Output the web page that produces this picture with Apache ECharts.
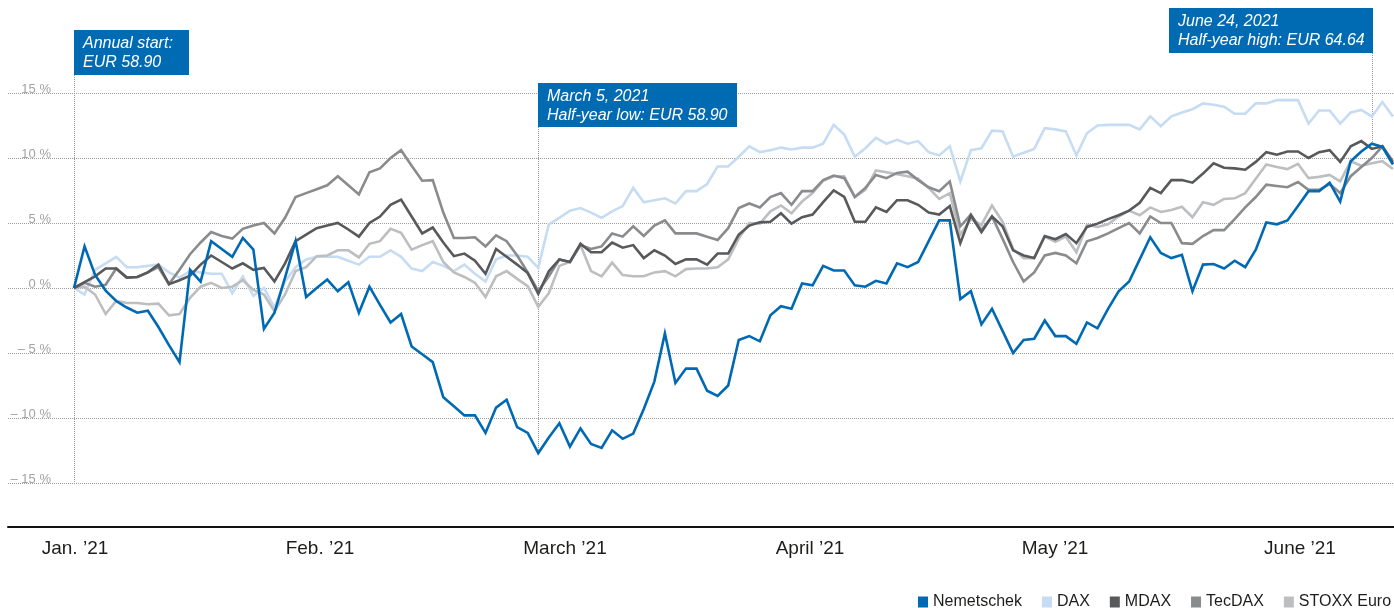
<!DOCTYPE html>
<html><head><meta charset="utf-8">
<script src="https://cdn.jsdelivr.net/npm/echarts@6/dist/echarts.min.js"></script>
<style>html,body{margin:0;padding:0;background:#fff}#c{width:1394px;height:608px}</style>
</head><body><div id="c"></div>
<script>
// ---- data (percent change vs. annual start, one value per trading day) ----
const monthLabels = ["Jan. \u201921", "Feb. \u201921", "March \u201921", "April \u201921", "May \u201921", "June \u201921"];
const yTicks = [-15, -10, -5, 0, 5, 10, 15];
const seriesNames = ["Nemetschek", "DAX", "MDAX", "TecDAX", "STOXX Euro"];

const nemetschek = [0, 3.2, 1.0, -0.2, -1.0, -1.5, -1.9, -1.75, -3.0, -4.4,
  -5.7, 1.4, 0.5, 3.6, 3.0, 2.4, 3.85, 2.95, -3.15, -1.9,
  0.8, 3.6, -0.7, 0.0, 0.65, -0.25, 0.45, -1.9, 0.1, -1.3,
  -2.65, -2.0, -4.5, -5.1, -5.7, -8.4, -9.1, -9.8, -9.8, -11.15,
  -9.2, -8.6, -10.7, -11.15, -12.7, -11.5, -10.4, -12.2, -10.8, -12.0,
  -12.3, -10.95, -11.6, -11.2, -9.3, -7.2, -3.5, -7.3, -6.2, -6.2,
  -7.9, -8.3, -7.5, -4.0, -3.7, -4.1, -2.1, -1.4, -1.6, 0.35,
  0.2, 1.7, 1.35, 1.35, 0.2, 0.1, 0.55, 0.35, 1.9, 1.6,
  2.0, 3.6, 5.2, 5.2, -0.85, -0.25, -2.8, -1.6, -3.3, -5.0,
  -4.0, -3.9, -2.5, -3.7, -3.7, -4.3, -2.65, -3.1, -1.6, -0.25,
  0.5, 2.2, 3.9, 2.7, 2.3, 2.55, -0.25, 1.8, 1.85, 1.5,
  2.1, 1.6, 2.95, 5.05, 4.9, 5.2, 6.3, 7.45, 7.45, 8.1,
  6.65, 9.75, 10.5, 11.1, 10.85, 9.5];

const dax = [0, -0.5, 1.4, 1.9, 2.4, 1.6, 1.6, 1.7, 1.8, 1.2,
  0.8, 1.3, 1.2, 1.1, 1.1, -0.4, 0.9, -0.6, 0.0, -1.5,
  0.5, 1.6, 2.2, 2.4, 2.4, 2.4, 2.1, 1.8, 2.4, 2.4,
  2.9, 2.4, 1.5, 1.3, 2.0, 1.7, 1.3, 1.8, 1.1, 0.5,
  2.2, 2.5, 2.5, 2.4, 1.55, 4.9, 5.4, 5.95, 6.15, 5.8,
  5.4, 5.9, 6.3, 7.7, 6.6, 6.75, 6.9, 6.5, 7.45, 7.45,
  8.0, 9.35, 9.35, 10.1, 10.9, 10.45, 10.6, 10.8, 10.65, 10.8,
  10.8, 11.1, 12.55, 11.8, 10.1, 10.75, 11.55, 11.1, 11.4, 11.1,
  11.3, 10.45, 10.2, 10.9, 8.2, 10.6, 10.75, 12.1, 12.05, 10.1,
  10.4, 10.7, 12.3, 12.2, 12.05, 10.2, 11.9, 12.5, 12.55, 12.55,
  12.55, 12.2, 13.2, 12.45, 13.2, 13.5, 13.75, 14.2, 14.1, 13.95,
  13.4, 13.4, 14.2, 14.2, 14.45, 14.45, 14.45, 12.65, 13.65, 13.65,
  12.65, 13.5, 13.7, 13.2, 14.3, 13.2];

const mdax = [0, 0.45, 0.9, 1.5, 1.5, 0.8, 0.85, 1.2, 1.8, 0.3,
  0.6, 0.95, 1.8, 2.5, 2.0, 1.5, 1.9, 1.4, 1.55, 0.5,
  1.9, 3.6, 4.1, 4.6, 4.8, 5.0, 4.5, 3.95, 5.0, 5.5,
  6.4, 6.8, 5.5, 4.2, 4.65, 3.5, 2.45, 2.65, 2.1, 1.1,
  3.0, 2.4, 1.8, 1.15, -0.45, 1.3, 2.2, 2.0, 3.4, 2.75,
  2.75, 3.5, 3.1, 3.3, 2.3, 2.9, 2.5, 1.85, 2.2, 2.2,
  1.8, 2.65, 2.65, 4.1, 4.8, 5.05, 5.1, 5.75, 4.95, 5.45,
  5.65, 6.6, 7.5, 7.0, 5.1, 5.1, 6.2, 5.85, 6.75, 6.75,
  6.4, 5.8, 5.65, 6.3, 3.45, 5.6, 4.3, 5.5, 4.75, 2.9,
  2.5, 2.3, 4.0, 3.75, 4.15, 3.45, 4.7, 4.95, 5.3, 5.6,
  5.95, 6.55, 7.7, 7.3, 8.3, 8.3, 8.1, 8.8, 9.6, 9.25,
  9.2, 9.1, 9.7, 10.45, 10.25, 10.5, 10.5, 10.0, 10.45, 10.6,
  9.7, 10.9, 11.3, 10.7, 10.9, 9.6];

const tecdax = [0, 0.4, 0.1, 0.25, 1.5, 0.8, 0.85, 1.2, 1.6, 0.3,
  1.4, 2.6, 3.5, 4.3, 4.0, 3.8, 4.55, 4.8, 5.0, 4.2,
  5.4, 7.0, 7.3, 7.6, 7.9, 8.6, 7.9, 7.2, 8.9, 9.2,
  10.0, 10.6, 9.4, 8.25, 8.3, 5.8, 3.85, 3.85, 3.9, 3.2,
  4.05, 3.6, 2.5, 1.2, -0.25, 0.9, 2.2, 2.0, 3.3, 3.0,
  3.2, 4.2, 3.95, 4.75, 4.0, 4.8, 5.2, 4.2, 4.2, 4.2,
  3.95, 3.7, 4.6, 6.15, 6.5, 6.2, 7.0, 7.3, 6.4, 7.45,
  7.45, 8.3, 8.65, 8.45, 7.0, 7.7, 8.7, 8.45, 8.85, 8.95,
  8.3, 7.75, 7.45, 8.2, 4.75, 5.65, 4.45, 5.5, 3.8, 2.0,
  0.5, 1.2, 2.5, 2.7, 2.5, 1.9, 3.6, 3.85, 4.2, 4.6,
  5.0, 4.2, 5.5, 5.0, 5.0, 3.45, 3.4, 4.0, 4.45, 4.45,
  5.3, 6.2, 7.0, 7.95, 7.85, 7.75, 8.15, 7.55, 7.55, 8.0,
  7.3, 8.6, 9.3, 10.0, 10.9, 9.75];

const stoxx = [0, 0.1, -0.5, -2.0, -1.0, -1.15, -1.15, -1.25, -1.2, -2.1,
  -2.0, -0.75, 0.1, 0.4, 0.0, 0.1, 0.6, -0.15, -0.5, -1.8,
  -0.5, 1.3, 1.6, 2.45, 2.5, 2.9, 2.9, 2.35, 3.4, 3.6,
  4.55, 4.25, 2.95, 3.3, 3.6, 2.0, 1.2, 0.85, 0.4, -0.7,
  0.9, 1.3, 0.7, 0.15, -1.45, -0.4, 1.7, 2.0, 3.3, 1.3,
  0.9, 1.95, 1.0, 0.9, 0.9, 1.2, 1.3, 0.9, 1.45, 1.5,
  1.5, 1.6, 2.2, 3.8, 5.0, 4.95, 5.9, 6.35, 5.75, 6.65,
  7.3, 8.25, 8.6, 8.6, 7.0, 7.55, 9.05, 8.9, 8.75, 8.6,
  8.4, 7.7, 6.85, 7.3, 4.1, 5.3, 4.85, 6.35, 5.1, 3.0,
  2.3, 2.3, 3.95, 3.55, 3.95, 2.75, 4.85, 4.7, 4.9, 5.5,
  5.95, 5.6, 6.2, 5.85, 6.0, 6.25, 5.45, 6.6, 6.4, 6.85,
  6.9, 7.3, 8.4, 9.5, 9.3, 9.15, 9.55, 8.45, 8.55, 8.7,
  8.2, 9.75, 9.4, 9.6, 9.75, 9.15];

// annotations: index in the series, text
const annotations = [
  { idx: 0, text: "Annual start:\nEUR 58.90", side: "left" },
  { idx: 44, text: "March 5, 2021\nHalf-year low: EUR 58.90", side: "left" },
  { idx: 123, text: "June 24, 2021\nHalf-year high: EUR 64.64", side: "right" }
];

// ---- chart ----
const FONT = '"Liberation Sans", Arial, Helvetica, sans-serif';
const colors = { "Nemetschek": "#0069b4", "DAX": "#c6dcf2", "MDAX": "#58595b", "TecDAX": "#8a8b8d", "STOXX Euro": "#bdbec0" };
const valuesByName = { "Nemetschek": nemetschek, "DAX": dax, "MDAX": mdax, "TecDAX": tecdax, "STOXX Euro": stoxx };
const drawOrder = ["DAX", "STOXX Euro", "TecDAX", "MDAX", "Nemetschek"];

const chart = echarts.init(document.getElementById('c'), null, { renderer: 'canvas' });

const fmtPct = v => (v < 0 ? '\u2013 ' + (-v) : '' + v) + ' %';

const option = {
  animation: false,
  backgroundColor: '#ffffff',
  textStyle: { fontFamily: FONT },
  grid: [
    { left: 8, right: 0, top: 93, height: 390 },
    { left: 75, width: 1225, top: 480, height: 47 }
  ],
  xAxis: [
    { type: 'value', gridIndex: 0, min: -6.255, max: 125.1, offset: 44, position: 'bottom',
      axisLine: { show: true, onZero: false, lineStyle: { color: '#111', width: 2 } },
      axisTick: { show: false }, axisLabel: { show: false }, splitLine: { show: false } },
    { type: 'category', gridIndex: 1, data: monthLabels, boundaryGap: false,
      axisLine: { show: false }, axisTick: { show: false }, splitLine: { show: false },
      axisLabel: { show: true, interval: 0, margin: 12, fontSize: 19, color: '#1d1d1b', fontFamily: FONT } }
  ],
  yAxis: [
    { type: 'value', gridIndex: 0, min: yTicks[0], max: yTicks[yTicks.length - 1], interval: 5,
      axisLine: { show: false }, axisTick: { show: false },
      axisLabel: { inside: true, margin: 43, align: 'right', verticalAlign: 'bottom', lineHeight: 8,
        fontSize: 13, color: '#a3a3a3', fontFamily: FONT, formatter: fmtPct },
      splitLine: { show: true, lineStyle: { color: '#9d9d9d', width: 1, type: [1, 1] } } },
    { type: 'value', gridIndex: 1, show: false }
  ],
  legend: {
    data: seriesNames.map(n => ({ name: n, icon: 'rect' })),
    left: 918, top: 594, width: 900, padding: 0, orient: 'horizontal',
    itemWidth: 10, itemHeight: 11, itemGap: 20,
    textStyle: { fontSize: 16, color: '#1d1d1b', fontFamily: FONT },
    selectedMode: false
  },
  series: drawOrder.map((name, k) => ({
    name: name, type: 'line', xAxisIndex: 0, yAxisIndex: 0,
    data: valuesByName[name].map((v, i) => [i, v]),
    showSymbol: false, symbol: 'none', smooth: false, clip: false,
    color: colors[name],
    lineStyle: { color: colors[name], width: 2.6, join: 'miter' },
    z: 2 + k
  }))
};
chart.setOption(option);

// annotation boxes and leader lines positioned through the chart's own scales
const toPx = (i, v) => chart.convertToPixel({ xAxisIndex: 0, yAxisIndex: 0 }, [i, v]);
const boxes = [
  { top: 30, height: 45, width: 115 },
  { top: 83, height: 44, width: 199 },
  { top: 8, height: 45, width: 204 }
];
const graphics = [];
annotations.forEach((a, k) => {
  const b = boxes[k];
  const p = toPx(a.idx, nemetschek[a.idx]);
  const x = Math.round(p[0]) + 0.5;
  const yEnd = k === 0 ? toPx(0, yTicks[0])[1] : p[1];
  graphics.push({ type: 'line', z: 1, silent: true,
    shape: { x1: x, y1: b.top + b.height, x2: x, y2: yEnd },
    style: { stroke: '#9a9a9a', lineWidth: 1, lineDash: [1, 1] } });
  const left = a.side === 'left' ? Math.round(p[0]) : Math.round(p[0]) - b.width + 1;
  graphics.push({ type: 'rect', z: 10, silent: true,
    shape: { x: left, y: b.top, width: b.width, height: b.height },
    style: { fill: '#006ab3' } });
  graphics.push({ type: 'text', z: 11, silent: true, x: left + 9, y: b.top + 4,
    style: { text: a.text, fill: '#ffffff', fontSize: 16, fontStyle: 'italic', fontFamily: FONT,
      lineHeight: 19, verticalAlign: 'top', align: 'left' } });
});
chart.setOption({ graphic: graphics });
</script>
</body></html>
